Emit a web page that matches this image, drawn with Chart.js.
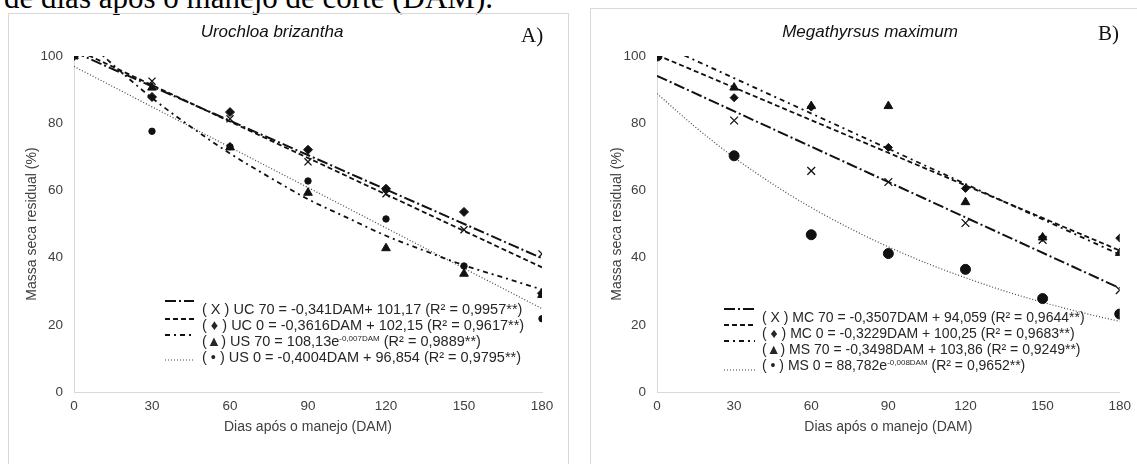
<!DOCTYPE html>
<html>
<head>
<meta charset="utf-8">
<script src="https://cdn.jsdelivr.net/npm/chart.js@4.4.1/dist/chart.umd.min.js"></script>
<style>
  body { margin: 0; background: #fff; }
  #page { position: relative; width: 1137px; height: 464px; overflow: hidden; font-family: 'Liberation Sans', Arial, sans-serif; }
  .frame { position: absolute; border: 1px solid #d9d9d9; }
  canvas { position: absolute; top: 0; }
  .title { position: absolute; font-style: italic; font-size: 17px; line-height: 20px; color: #111; white-space: nowrap; transform: translateX(-50%); }
  .tag { position: absolute; font-family: 'Liberation Serif', 'Times New Roman', serif; font-size: 21px; line-height: 24px; color: #111; }
  .leg { position: absolute; font-size: 14px; line-height: 16px; color: #262626; white-space: nowrap; }
  .leg.a { font-size: 14.5px; }
  .leg sup { font-size: 8px; vertical-align: 5px; line-height: 0; }
  #caption { position: absolute; left: 4px; top: -17px; font-family: 'Liberation Serif', 'Times New Roman', serif; font-size: 31px; line-height: 30px; white-space: nowrap; color: #000; }
</style>
</head>
<body>
<div id="page">
  <div id="caption">de dias após o manejo de corte (DAM).</div>
  <div class="frame" style="left:8px; top:13px; width:559px; height:470px;"></div>
  <div class="frame" style="left:590px; top:8px; width:600px; height:470px;"></div>
  <canvas id="chartA" width="575" height="464" style="left:0;"></canvas>
  <canvas id="chartB" width="557" height="464" style="left:580px;"></canvas>

  <div class="title" style="left:272px; top:22px;">Urochloa brizantha</div>
  <div class="tag" style="left:521px; top:23px;">A)</div>
  <div class="title" style="left:870px; top:22px;">Megathyrsus maximum</div>
  <div class="tag" style="left:1098px; top:21px;">B)</div>

  <div class="leg a" style="left:202px; top:301px;">( X ) UC 70 = -0,341DAM+ 101,17 (R² = 0,9957**)</div>
  <div class="leg a" style="left:202px; top:317px;">( ♦ ) UC 0 = -0,3616DAM + 102,15 (R² = 0,9617**)</div>
  <div class="leg a" style="left:202px; top:333px;">(▲) US 70 = 108,13e<sup>-0,007DAM</sup> (R² = 0,9889**)</div>
  <div class="leg a" style="left:202px; top:349px;">( • ) US 0 = -0,4004DAM + 96,854 (R² = 0,9795**)</div>

  <div class="leg" style="left:762px; top:309px;">( X ) MC 70 = -0,3507DAM + 94,059 (R² = 0,9644**)</div>
  <div class="leg" style="left:762px; top:325px;">( ♦ ) MC 0 = -0,3229DAM + 100,25 (R² = 0,9683**)</div>
  <div class="leg" style="left:762px; top:341px;">(▲) MS 70 = -0,3498DAM + 103,86 (R² = 0,9249**)</div>
  <div class="leg" style="left:762px; top:357px;">( • ) MS 0 = 88,782e<sup>-0,008DAM</sup> (R² = 0,9652**)</div>
</div>
<script>
const days = [0, 30, 60, 90, 120, 150, 180];

// A) Urochloa brizantha
const uc70 = [100, 92.5, 81.3, 68.5, 59.0, 48.3, 41.1];
const uc0  = [100, 87.8, 83.3, 72.1, 60.5, 53.6, 29.4];
const us70 = [100, 90.6, 72.8, 59.3, 42.8, 35.2, 28.9];
const us0  = [100, 77.6, 73.0, 62.8, 51.5, 37.5, 21.8];

// B) Megathyrsus maximum
const mc70 = [100, 80.8, 65.8, 62.5, 50.3, 45.3, 30.3];
const mc0  = [100, 87.6, 84.8, 72.8, 60.6, 46.0, 45.8];
const ms70 = [100, 90.6, 85.1, 85.1, 56.5, 46.0, 41.4];
const ms0  = [100, 70.3, 46.8, 41.2, 36.5, 27.8, 23.2];

// Fitted curves
const lineEnds = [0, 180];
const curveDays = [0, 15, 30, 45, 60, 75, 90, 105, 120, 135, 150, 165, 180];
const uc70Fit = [101.2, 39.8];
const uc0Fit  = [102.2, 37.1];
const us70Fit = [108.1, 97.4, 87.5, 78.9, 71.0, 64.0, 57.4, 51.9, 46.5, 42.0, 37.7, 34.1, 30.5];
const us0Fit  = [96.9, 24.8];
const mc70Fit = [94.1, 30.9];
const mc0Fit  = [100.3, 42.1];
const ms70Fit = [103.9, 40.9];
const ms0Fit  = [88.8, 78.8, 69.8, 61.9, 54.9, 48.7, 43.2, 38.3, 34.0, 30.1, 26.7, 23.7, 21.0];

const xTicks = [0, 30, 60, 90, 120, 150, 180];
const yTicks = [0, 20, 40, 60, 80, 100];

const FONT = "'Liberation Sans', Arial, sans-serif";
Chart.defaults.font.family = FONT;

const longDashDot = [11, 3, 2, 3];
const dashed = [5, 3];
const dashDot = [5, 4, 2, 4];
const dotted = [1, 2];

function pts(xs, ys) {
  return ys.map((y, i) => ({ x: xs[i], y: y }));
}

function trend(xs, ys, dash, width, color) {
  return {
    data: pts(xs, ys), showLine: true, borderColor: color, borderWidth: width,
    borderDash: dash, pointRadius: 0, pointHoverRadius: 0, fill: false,
    cubicInterpolationMode: 'monotone', order: 2
  };
}

function marks(ys, style, radius, filled) {
  return {
    data: pts(days, ys), showLine: false, pointStyle: style, pointRadius: radius,
    pointBorderWidth: filled ? 1 : 1.3, pointBorderColor: '#111',
    pointBackgroundColor: filled ? '#111' : 'rgba(0,0,0,0)', order: 1
  };
}

// legend line samples, drawn next to the html legend text
const legendSamples = {
  id: 'legendSamples',
  afterDraw(chart, args, opts) {
    const ctx = chart.ctx;
    opts.rows.forEach(r => {
      const ds = chart.data.datasets[r.ds];
      ctx.save();
      ctx.strokeStyle = ds.borderColor;
      ctx.lineWidth = ds.borderWidth;
      ctx.setLineDash(ds.borderDash);
      ctx.beginPath();
      ctx.moveTo(r.x1, r.y);
      ctx.lineTo(r.x2, r.y);
      ctx.stroke();
      ctx.restore();
    });
  }
};

function makeChart(id, datasets, yWidth, padRight, yTitlePad, rows) {
  return new Chart(document.getElementById(id), {
    type: 'scatter',
    data: { datasets: datasets },
    options: {
      responsive: false,
      animation: false,
      devicePixelRatio: 1,
      layout: { padding: { left: 0, right: padRight, top: 56, bottom: 0 } },
      plugins: {
        legend: { display: false },
        tooltip: { enabled: false },
        legendSamples: { rows: rows }
      },
      scales: {
        x: {
          type: 'linear', min: 0, max: 180,
          afterBuildTicks: s => { s.ticks = xTicks.map(v => ({ value: v })); },
          afterFit: s => { s.height = 72; },
          ticks: { padding: 6, color: '#404040', font: { size: 13.5 } },
          grid: { display: false, drawTicks: false },
          border: { color: '#d9d9d9', width: 1 },
          title: { display: true, text: 'Dias após o manejo (DAM)', color: '#404040',
                   font: { size: 14 }, padding: { top: 0, bottom: 28.6 } }
        },
        y: {
          min: 0, max: 100,
          afterBuildTicks: s => { s.ticks = yTicks.map(v => ({ value: v })); },
          afterFit: s => { s.width = yWidth; },
          ticks: { padding: 11, color: '#404040', font: { size: 13.5 } },
          grid: { display: false, drawTicks: false },
          border: { color: '#d9d9d9', width: 1 },
          title: { display: true, text: 'Massa seca residual (%)', color: '#404040',
                   font: { size: 14 }, padding: { top: yTitlePad, bottom: 0 } }
        }
      }
    },
    plugins: [legendSamples]
  });
}

makeChart('chartA', [
  trend(lineEnds, uc70Fit, longDashDot, 2, '#111'),
  trend(lineEnds, uc0Fit, dashed, 1.8, '#111'),
  trend(curveDays, us70Fit, dashDot, 1.8, '#111'),
  trend(lineEnds, us0Fit, dotted, 1.2, '#444'),
  marks(uc70, 'crossRot', 5, false),
  marks(uc0, 'rectRot', 4.5, true),
  marks(us70, 'triangle', 5, true),
  marks(us0, 'circle', 3.2, true)
], 74, 33, 23.6, [
  { ds: 0, x1: 165, x2: 194, y: 301 },
  { ds: 1, x1: 165, x2: 194, y: 319 },
  { ds: 2, x1: 165, x2: 194, y: 335 },
  { ds: 3, x1: 165, x2: 194, y: 360 }
]);

makeChart('chartB', [
  trend(lineEnds, mc70Fit, longDashDot, 2, '#111'),
  trend(lineEnds, mc0Fit, dashed, 1.8, '#111'),
  trend(lineEnds, ms70Fit, dashDot, 1.8, '#111'),
  trend(curveDays, ms0Fit, dotted, 1.2, '#444'),
  marks(mc70, 'crossRot', 5.5, false),
  marks(mc0, 'rectRot', 4, true),
  marks(ms70, 'triangle', 5, true),
  marks(ms0, 'circle', 5, true)
], 77, 12, 28.6, [
  { ds: 0, x1: 144, x2: 175, y: 309 },
  { ds: 1, x1: 144, x2: 175, y: 325 },
  { ds: 2, x1: 144, x2: 175, y: 341 },
  { ds: 3, x1: 144, x2: 175, y: 370 }
]);
</script>
</body>
</html>
